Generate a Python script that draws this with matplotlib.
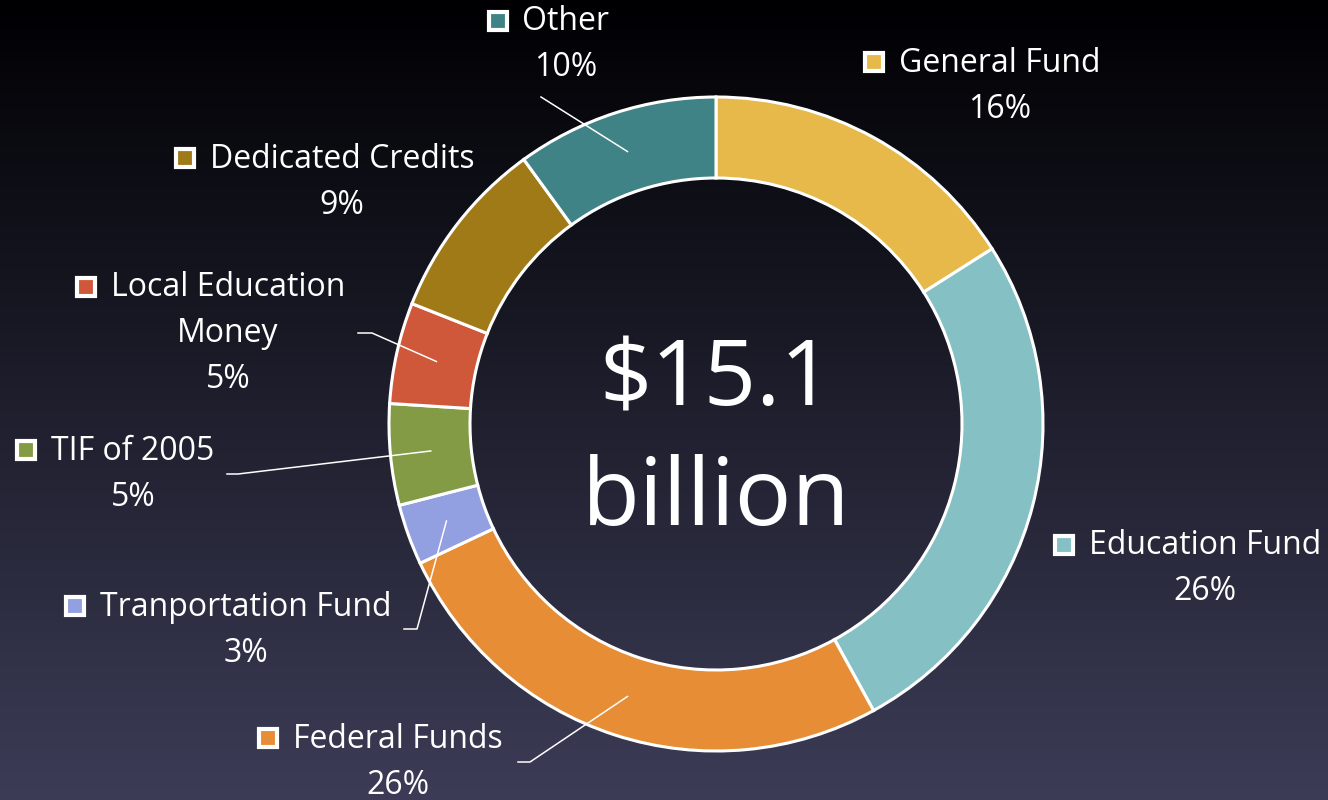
import numpy as np
import matplotlib.pyplot as plt

plt.rcParams['font.family'] = ['Open Sans', 'DejaVu Sans']

# data, clockwise from 12 o'clock
labels = ['General Fund', 'Education Fund', 'Federal Funds', 'Tranportation Fund',
          'TIF of 2005', 'Local Education\nMoney', 'Dedicated Credits', 'Other']
shares = [16, 26, 26, 3, 5, 5, 9, 10]
colors = ['#E6B94A', '#85C0C5', '#E68D36', '#929FE0',
          '#829B44', '#CF573A', '#A17A18', '#3F8387']

# label placement in pixels (x = centre of text, y = first line, from top)
label_pos = [(1000, 63), (1205, 546), (398, 739), (246, 607),
             (133, 451), (228, 288), (342, 159), (566, 22)]
# leader line start points (near the label), None = no leader
leader_start = [None, None, [(518, 762), (530, 762)], [(404, 629), (417, 629)],
                [(227, 474), (238, 474)], [(358, 333), (372, 333)], None,
                [(541, 97)]]

W, H = 1328, 800
cx, cy = 716, 424
R, ring = 327, 81

fig = plt.figure(figsize=(W / 100, H / 100), dpi=100)
ax = fig.add_axes([0, 0, 1, 1])

# background gradient: near black at top -> slate blue at bottom
grad = np.linspace(0, 1, 256)[:, None]
top = np.array([0.0, 0.0, 0.01])
bot = np.array([0.235, 0.235, 0.34])
img = top + (bot - top) * grad[:, :, None]
ax.imshow(img, extent=[0, W, 0, H], origin='upper', aspect='auto', zorder=0)


def fy(y):
    return H - y


wedges, _ = ax.pie(shares, colors=colors, startangle=90, counterclock=False,
                   radius=R, center=(cx, fy(cy)),
                   wedgeprops=dict(width=ring, edgecolor='white', linewidth=2.2))
for w in wedges:
    w.set_zorder(2)
ax.set_xlim(0, W)
ax.set_ylim(0, H)
ax.set_aspect('auto')
ax.axis('off')

ax.text(cx, fy(382), '$15.1', color='white', fontsize=66, ha='center', va='center', zorder=3)
ax.text(cx, fy(500), 'billion', color='white', fontsize=68, ha='center', va='center', zorder=3)

fs = 23
fig.canvas.draw()
for i, (lab, pct) in enumerate(zip(labels, shares)):
    x, y = label_pos[i]
    lines = lab.split('\n')
    for k, ln in enumerate(lines):
        t = ax.text(x, fy(y + 46 * k), ln, color='white', fontsize=fs,
                    ha='center', va='center', zorder=4)
        if k == 0:
            bb = t.get_window_extent(renderer=fig.canvas.get_renderer())
            ax.plot(bb.x0 - 25, fy(y) + 1, marker='s', markersize=12.5,
                    markerfacecolor=colors[i], markeredgecolor='white',
                    markeredgewidth=3, zorder=4)
    ax.text(x, fy(y + 46 * len(lines)), f'{pct}%', color='white', fontsize=fs,
            ha='center', va='center', zorder=4)

    if leader_start[i] is not None:
        mid = (sum(shares[:i]) + shares[i] / 2) / sum(shares) * 2 * np.pi
        rm = R - ring / 2
        ex, ey = cx + rm * np.sin(mid), cy - rm * np.cos(mid)
        pts = leader_start[i] + [(ex, ey)]
        ax.plot([p[0] for p in pts], [fy(p[1]) for p in pts],
                color='white', linewidth=1.1, zorder=5)

fig.savefig('out.png', dpi=100)
